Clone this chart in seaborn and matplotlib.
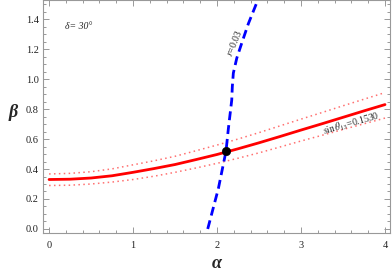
import numpy as np
import pandas as pd
import matplotlib
matplotlib.use("Agg")
import matplotlib.pyplot as plt
from matplotlib.ticker import MultipleLocator, FormatStrFormatter
import seaborn as sns

# red band: sin(theta13) central value and 1-sigma edges
alpha = [0.0, 0.25, 0.5, 0.75, 1.0, 1.25, 1.5, 1.75, 2.0,
         2.25, 2.5, 2.75, 3.0, 3.25, 3.5, 3.75, 4.0]
beta_mid = [0.330, 0.332, 0.340, 0.355, 0.378, 0.403, 0.430, 0.463, 0.497,
            0.535, 0.575, 0.617, 0.660, 0.702, 0.745, 0.788, 0.830]
beta_up = [0.367, 0.371, 0.382, 0.401, 0.428, 0.455, 0.485, 0.522, 0.560,
           0.600, 0.643, 0.688, 0.733, 0.777, 0.822, 0.866, 0.910]
beta_lo = [0.290, 0.292, 0.300, 0.313, 0.330, 0.352, 0.378, 0.407, 0.438,
           0.472, 0.508, 0.547, 0.587, 0.625, 0.664, 0.702, 0.740]

# blue dashed: r = 0.03 contour
r_alpha = [1.889, 2.016, 2.107, 2.135, 2.175, 2.182, 2.194, 2.235, 2.294, 2.373, 2.473, 2.485]
r_beta = [0.00, 0.27, 0.52, 0.67, 0.86, 0.95, 1.04, 1.14, 1.24, 1.37, 1.51, 1.53]

pt_alpha, pt_beta = [2.107], [0.52]

sns.set_style("ticks")
plt.rcParams['font.family'] = ['Liberation Serif', 'DejaVu Serif']
plt.rcParams['mathtext.fontset'] = 'stix'

df = pd.DataFrame({'a': alpha, 'mid': beta_mid, 'up': beta_up, 'lo': beta_lo})
dr = pd.DataFrame({'a': r_alpha, 'b': r_beta})

fig = plt.figure(figsize=(3.92, 2.73), dpi=100)
ax = fig.add_axes([0.110, 0.1465, 0.885, 0.853])

sns.lineplot(data=df, x='a', y='up', ax=ax, color='#ff7070', lw=1.1, linestyle=(0, (1, 2.2)))
sns.lineplot(data=df, x='a', y='lo', ax=ax, color='#ff7070', lw=1.1, linestyle=(0, (1, 2.2)))
sns.lineplot(data=df, x='a', y='mid', ax=ax, color='#ff0000', lw=2.0)
sns.lineplot(data=dr, x='a', y='b', ax=ax, color='#0000ff', lw=2.0, sort=False,
             linestyle=(0, (3.2, 1.8)))
sns.scatterplot(x=pt_alpha, y=pt_beta, ax=ax, color='black', s=36, zorder=5, edgecolor='black')

ax.set_xlim(-0.071, 4.06)
ax.set_ylim(-0.027, 1.527)
ax.xaxis.set_major_locator(MultipleLocator(1))
ax.xaxis.set_minor_locator(MultipleLocator(0.2))
ax.yaxis.set_major_locator(MultipleLocator(0.2))
ax.yaxis.set_minor_locator(MultipleLocator(0.05))
ax.yaxis.set_major_formatter(FormatStrFormatter('%.1f'))
ax.xaxis.set_major_formatter(FormatStrFormatter('%d'))

ax.tick_params(which='both', direction='in', top=True, right=True, color='#999999',
               labelsize=7.5, labelcolor='#222222', width=0.7)
ax.tick_params(which='major', length=4.5)
ax.tick_params(which='minor', length=2.5)
ax.tick_params(axis='x', pad=6)
ax.tick_params(axis='y', pad=3)
for s in ax.spines.values():
    s.set_color('#999999')
    s.set_linewidth(0.8)

ax.set_xlabel('α', fontsize=13, fontstyle='italic', fontweight='bold', labelpad=3)
ax.set_ylabel('β', fontsize=13, fontstyle='italic', fontweight='bold', rotation=0, labelpad=12)
ax.yaxis.set_label_coords(-0.085, 0.48)

ax.text(0.35, 1.35, 'δ= 30°', fontsize=7, fontstyle='italic', ha='center', va='center')
ax.text(2.2, 1.24, '$r$=0.03', fontsize=7, rotation=68, ha='center', va='center',
        rotation_mode='anchor')
ax.text(3.6, 0.705, r'$\sin\theta_{13}$=0.1530', fontsize=7, rotation=16,
        ha='center', va='center', rotation_mode='anchor')

fig.savefig('out.png', dpi=100)
